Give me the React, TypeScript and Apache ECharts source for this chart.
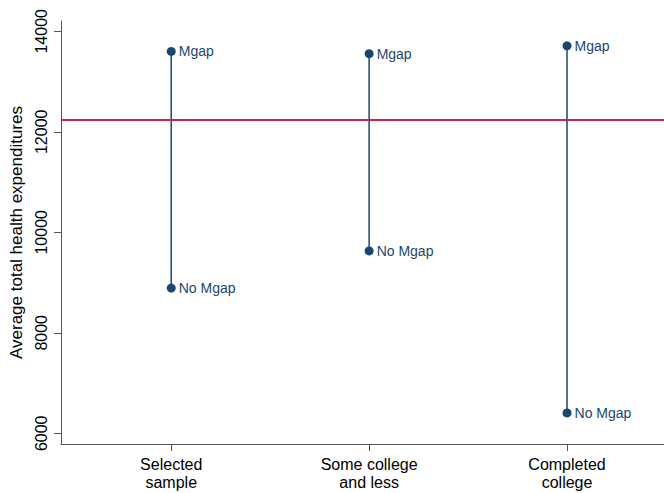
import React, { useEffect, useRef } from "react";
import * as echarts from "echarts";

// Education groups along the x axis (positions 1..3)
const categories = ["Selected\nsample", "Some college\nand less", "Completed\ncollege"];
// Average total health expenditures by group
const mgapValues = [13600, 13555, 13710];
const noMgapValues = [8890, 9630, 6405];
// Overall reference mean drawn as a horizontal rule
const overallMean = 12236;
const yTickValues = [6000, 8000, 10000, 12000, 14000];
const xTickValues = [1, 2, 3];

const NAVY = "#1a476f";
const RED = "#c8284f";
const AXIS = "#555555";
const FONT = "'Liberation Sans', Arial, sans-serif";

export default function App() {
  const ref = useRef<HTMLDivElement>(null);

  useEffect(() => {
    if (!ref.current) return;
    const chart = echarts.init(ref.current, undefined, { renderer: "svg" });

    const stemData = categories.map((_, i) => [xTickValues[i], mgapValues[i], noMgapValues[i]]);
    const mgapData = categories.map((_, i) => [xTickValues[i], mgapValues[i]]);
    const noMgapData = categories.map((_, i) => [xTickValues[i], noMgapValues[i]]);

    chart.setOption({
      animation: false,
      backgroundColor: "#ffffff",
      textStyle: { fontFamily: FONT },
      grid: { left: 61, right: 0, top: 21, bottom: 49, containLabel: false },
      xAxis: {
        type: "value",
        min: 0.443,
        max: 3.49,
        axisLine: { show: true, onZero: false, lineStyle: { color: AXIS, width: 1 } },
        axisTick: { show: true, length: 7, customValues: xTickValues, lineStyle: { color: AXIS } },
        axisLabel: {
          show: true,
          customValues: xTickValues,
          formatter: (v: number) => categories[Math.round(v) - 1] ?? "",
          color: "#000",
          fontSize: 16,
          lineHeight: 18,
          margin: 11,
          fontFamily: FONT,
        },
        splitLine: { show: false },
      },
      yAxis: {
        type: "value",
        min: 5787,
        max: 14205,
        name: "Average total health expenditures",
        nameLocation: "middle",
        nameGap: 36,
        nameTextStyle: { color: "#000", fontSize: 17, fontFamily: FONT },
        axisLine: { show: true, onZero: false, lineStyle: { color: AXIS, width: 1 } },
        axisTick: { show: true, length: 7, customValues: yTickValues, lineStyle: { color: AXIS } },
        axisLabel: {
          show: true,
          customValues: yTickValues,
          formatter: (v: number) => String(v),
          rotate: 90,
          color: "#000",
          fontSize: 16,
          margin: 12,
          fontFamily: FONT,
        },
        splitLine: { show: false },
      },
      series: [
        {
          type: "custom",
          data: stemData,
          z: 2,
          renderItem: (_params: any, api: any) => {
            const x = api.value(0);
            const top = api.coord([x, api.value(1)]);
            const bottom = api.coord([x, api.value(2)]);
            return {
              type: "line",
              shape: { x1: top[0], y1: top[1], x2: bottom[0], y2: bottom[1] },
              style: { stroke: NAVY, lineWidth: 1.5 },
            };
          },
          silent: true,
        },
        {
          type: "scatter",
          data: mgapData,
          symbol: "circle",
          symbolSize: 9,
          itemStyle: { color: NAVY, opacity: 1 },
          z: 3,
          label: {
            show: true,
            position: "right",
            distance: 3,
            formatter: "Mgap",
            color: NAVY,
            fontSize: 14,
            fontFamily: FONT,
          },
          markLine: {
            silent: true,
            symbol: "none",
            label: { show: false },
            lineStyle: { color: RED, width: 1.8, type: "solid" },
            data: [{ yAxis: overallMean }],
          },
        },
        {
          type: "scatter",
          data: noMgapData,
          symbol: "circle",
          symbolSize: 9,
          itemStyle: { color: NAVY, opacity: 1 },
          z: 3,
          label: {
            show: true,
            position: "right",
            distance: 3,
            formatter: "No Mgap",
            color: NAVY,
            fontSize: 14,
            fontFamily: FONT,
          },
        },
      ],
    });

    return () => chart.dispose();
  }, []);

  return <div ref={ref} style={{ width: 664, height: 493, position: "absolute", left: 0, top: 0 }} />;
}
